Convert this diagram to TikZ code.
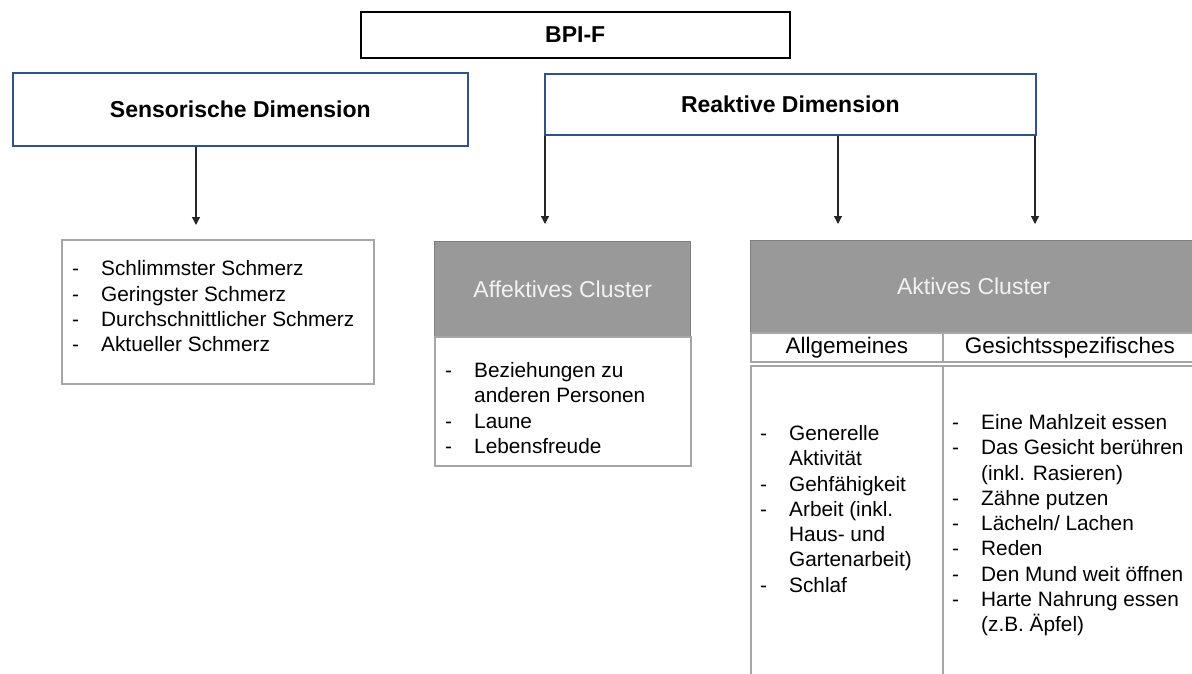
\documentclass[tikz,border=0pt]{standalone}
\usepackage{fontspec}
\setmainfont{Liberation Sans}
\usetikzlibrary{arrows.meta}
\definecolor{dblue}{HTML}{2F528F}
\definecolor{hdrgray}{HTML}{999999}
\definecolor{hdrborder}{HTML}{7F7F7F}
\definecolor{lgray}{HTML}{A6A6A6}
\definecolor{hdrtext}{HTML}{F2F2F2}
\definecolor{arrgray}{HTML}{262626}
\tikzset{
  topbox/.style={draw=black, line width=1.5pt, fill=white, inner sep=0pt, anchor=north west,
    font=\fontsize{23}{27}\selectfont\bfseries},
  dimbox/.style={draw=dblue, line width=1.6pt, fill=white, inner sep=0pt, anchor=north west,
    font=\fontsize{23}{27}\selectfont\bfseries},
  listbox/.style={draw=lgray, line width=1.6pt, fill=white, inner sep=0pt, anchor=north west},
  hdrbox/.style={draw=hdrborder, line width=1.4pt, fill=hdrgray, inner sep=0pt, anchor=north west,
    text=hdrtext, font=\fontsize{23}{27}\selectfont},
  cellbox/.style={draw=lgray, line width=1.6pt, fill=white, inner sep=0pt, anchor=north west,
    font=\fontsize{22.5}{27}\selectfont},
  items/.style={inner sep=0pt, anchor=north west, font=\fontsize{20.8}{25.3}\selectfont},
  arr/.style={draw=arrgray, line width=1.2pt, -{Triangle[length=8pt,width=8pt]}}
}
\newcommand{\itemtab}[1]{\begin{tabular}{@{}p{29pt}@{}l@{}}#1\end{tabular}}
\begin{document}
\begin{tikzpicture}[x=1pt,y=-1pt]
\useasboundingbox (0,0) rectangle (1192,673);
\clip (0,0) rectangle (1192,673);

% top level
\node[topbox, minimum width=429pt, minimum height=46pt] (bpi) at (360,11) {BPI-F};
\node[dimbox, minimum width=455pt, minimum height=73pt] (sens) at (12,72) {Sensorische Dimension};
\node[dimbox, minimum width=491pt, minimum height=61pt] (reak) at (544,73) {Reaktive Dimension};

% sensory list
\node[listbox, minimum width=312pt, minimum height=144pt] (senslist) at (61,239) {};
\node[items] (sensitems) at (72,258) {\itemtab{
- & Schlimmster Schmerz\\
- & Geringster Schmerz\\
- & Durchschnittlicher Schmerz\\
- & Aktueller Schmerz}};

% affective cluster
\node[hdrbox, minimum width=256pt, minimum height=95pt] (affhead) at (434,241) {Affektives Cluster};
\node[listbox, minimum width=256pt, minimum height=129pt] (afflist) at (434,336) {};
\node[items] (affitems) at (445,359.5) {\itemtab{
- & Beziehungen zu\\
  & anderen Personen\\
- & Laune\\
- & Lebensfreude}};

% active cluster
\node[hdrbox, minimum width=446pt, minimum height=92pt] (akthead) at (750,240) {Aktives Cluster};
\node[cellbox, minimum width=192pt, minimum height=29pt] (allg) at (750,332) {Allgemeines};
\node[cellbox, minimum width=254pt, minimum height=29pt] (gesi) at (942,332) {Gesichtsspezifisches};
\node[listbox, minimum width=192pt, minimum height=340pt] (allgbody) at (750,365) {};
\node[listbox, minimum width=254pt, minimum height=340pt] (gesibody) at (942,365) {};
\node[items] (allgitems) at (760,422.5) {\itemtab{
- & Generelle\\
  & Aktivität\\
- & Gehfähigkeit\\
- & Arbeit (inkl.\\
  & Haus- und\\
  & Gartenarbeit)\\
- & Schlaf}};
\node[items] (gesiitems) at (952,411.5) {\itemtab{
- & Eine Mahlzeit essen\\
- & Das Gesicht berühren\\
  & (inkl. Rasieren)\\
- & Zähne putzen\\
- & Lächeln/ Lachen\\
- & Reden\\
- & Den Mund weit öffnen\\
- & Harte Nahrung essen\\
  & (z.B. Äpfel)}};

% arrow end points
\coordinate (e1) at (196,225);
\coordinate (e2) at (545,224);
\coordinate (e3) at (838,224);
\coordinate (e4) at (1035,224);
\draw[arr] (sens.south -| e1) -- (e1);
\draw[arr] (reak.south -| e2) -- (e2);
\draw[arr] (reak.south -| e3) -- (e3);
\draw[arr] (reak.south -| e4) -- (e4);
\end{tikzpicture}
\end{document}
